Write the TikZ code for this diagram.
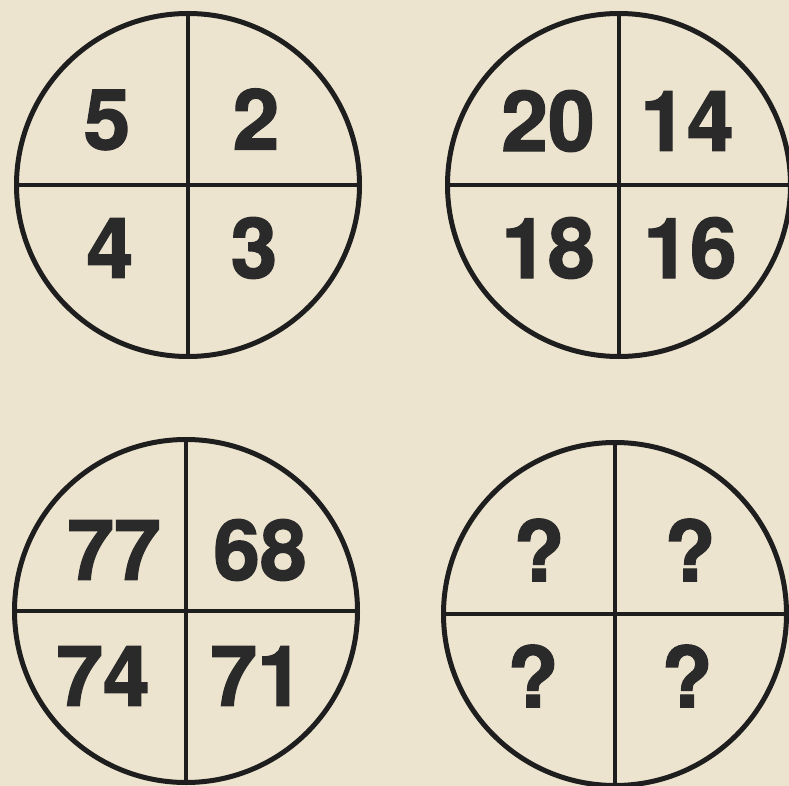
\documentclass[tikz,border=0pt]{standalone}
\usepackage{fontspec}
\setmainfont{TeX Gyre Heros}[BoldFeatures={FakeBold=1.6}]
\definecolor{paper}{HTML}{EDE4CF}
\definecolor{ink}{HTML}{1E1E1E}
\definecolor{digit}{HTML}{2A2A2A}
\begin{document}
\begin{tikzpicture}[x=1pt,y=-1pt,
  ring/.style={circle,draw=ink,line width=5pt,minimum size=343pt,inner sep=0pt},
  cross/.style={draw=ink,line width=4.8pt},
  num/.style={text=digit,font=\fontsize{84}{84}\selectfont\bfseries,inner sep=0pt}]
\fill[paper] (0,0) rectangle (789,786);
\useasboundingbox (0,0) rectangle (789,786);
% circles
\node[ring] (c1) at (188,185) {};
\node[ring] (c2) at (619,185) {};
\node[ring] (c3) at (186,611) {};
\node[ring] (c4) at (615,614) {};
\foreach \c in {c1,c2,c3,c4}{
  \draw[cross] (\c.north) -- (\c.south);
  \draw[cross] (\c.west) -- (\c.east);
}
% numbers
\node[num] (a1) at (107,120) {5};
\node[num] (a2) at (256,119) {2};
\node[num] (a3) at (110,248) {4};
\node[num] (a4) at (254,248) {3};
\node[num] (b1) at (548,121) {20};
\node[num] (b2) at (687,121) {14};
\node[num] (b3) at (548,248) {18};
\node[num] (b4) at (690,248) {16};
\node[num] (d1) at (114,550) {77};
\node[num] (d2) at (260,550) {68};
\node[num] (d3) at (103,676) {74};
\node[num] (d4) at (257,676) {71};
\node[num] (e1) at (539,550) {?};
\node[num] (e2) at (690,550) {?};
\node[num] (e3) at (533,676) {?};
\node[num] (e4) at (687,676) {?};
\end{tikzpicture}
\end{document}
